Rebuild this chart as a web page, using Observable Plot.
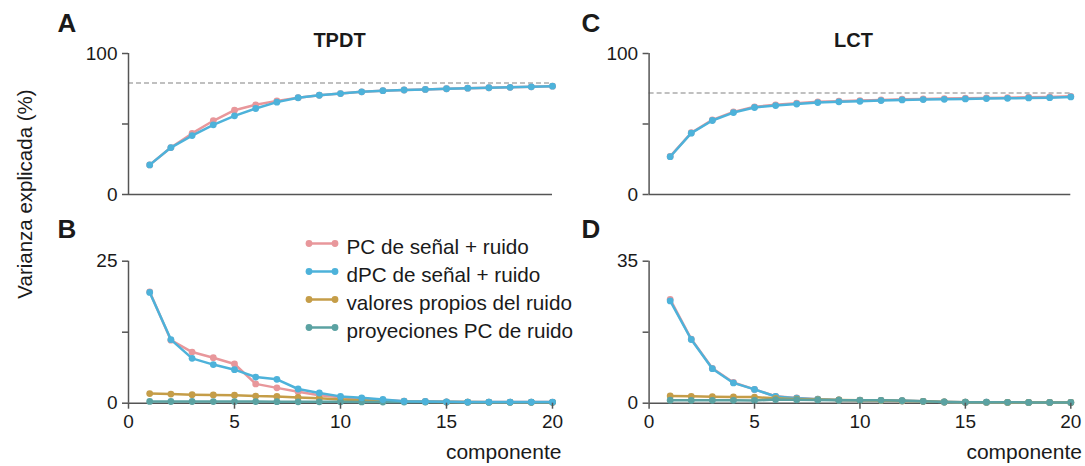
<!DOCTYPE html>
<html>
<head>
<meta charset="utf-8">
<script src="https://cdn.jsdelivr.net/npm/d3@7"></script>
<script src="https://cdn.jsdelivr.net/npm/@observablehq/plot@0.6"></script>
<style>
  html, body { margin: 0; padding: 0; background: #fff; }
  #fig { position: relative; width: 1085px; height: 466px; overflow: hidden;
         font-family: "Liberation Sans", Arial, sans-serif; color: #1a1a1a; }
  #fig > svg, #fig > div { position: absolute; }
</style>
</head>
<body>
<div id="fig"></div>
<script>
// Componentes principales 1..20
const componentes = d3.range(1, 21);

// Varianza explicada acumulada (%)
const tpdtPCacum  = [21.0, 33.3, 43.3, 52.3, 59.8, 63.6, 66.4, 68.7, 70.4, 71.6, 72.8, 73.6, 74.1, 74.5, 75.0, 75.4, 75.7, 76.0, 76.4, 76.8];
const tpdtDPCacum = [21.0, 33.3, 41.8, 49.4, 55.8, 61.0, 65.5, 68.6, 70.4, 71.6, 72.8, 73.6, 74.1, 74.5, 75.0, 75.4, 75.7, 76.0, 76.4, 76.8];
const tpdtTecho = 79;
const lctPCacum   = [27.0, 43.8, 52.9, 58.6, 62.2, 63.6, 64.7, 65.7, 66.2, 66.6, 67.1, 67.6, 67.8, 68.0, 68.3, 68.5, 68.7, 69.0, 69.2, 69.6];
const lctDPCacum  = [26.8, 43.5, 52.5, 58.1, 61.7, 63.1, 64.2, 65.2, 65.7, 66.1, 66.6, 67.1, 67.3, 67.5, 67.8, 68.0, 68.2, 68.5, 68.7, 69.2];
const lctTecho = 72;

// Varianza explicada por componente (%)
const tpdtPC    = [19.6, 11.1, 9.0, 8.0, 6.9, 3.4, 2.7, 2.0, 1.4, 1.05, 0.8, 0.55, 0.35, 0.3, 0.25, 0.2, 0.2, 0.2, 0.2, 0.2];
const tpdtDPC   = [19.5, 11.2, 7.9, 6.8, 5.9, 4.6, 4.2, 2.5, 1.8, 1.2, 0.95, 0.65, 0.35, 0.3, 0.25, 0.2, 0.2, 0.2, 0.2, 0.2];
const tpdtRuido = [1.7, 1.6, 1.5, 1.45, 1.4, 1.25, 1.2, 1.0, 0.85, 0.65, 0.5, 0.4, 0.3, 0.25, 0.2, 0.2, 0.15, 0.15, 0.15, 0.15];
const tpdtProy  = [0.32, 0.3, 0.3, 0.29, 0.28, 0.28, 0.27, 0.25, 0.25, 0.24, 0.22, 0.21, 0.2, 0.2, 0.19, 0.18, 0.18, 0.17, 0.17, 0.16];
const lctPC     = [25.6, 15.8, 8.6, 5.1, 3.4, 1.7, 1.3, 1.0, 0.8, 0.75, 0.7, 0.6, 0.45, 0.3, 0.25, 0.25, 0.22, 0.2, 0.2, 0.2];
const lctDPC    = [25.2, 15.7, 8.5, 5.0, 3.4, 1.65, 1.25, 1.0, 0.8, 0.75, 0.7, 0.6, 0.45, 0.3, 0.25, 0.25, 0.22, 0.2, 0.2, 0.2];
const lctRuido  = [1.8, 1.7, 1.6, 1.55, 1.5, 1.2, 1.0, 0.9, 0.8, 0.7, 0.65, 0.55, 0.45, 0.3, 0.25, 0.22, 0.2, 0.2, 0.18, 0.18];
const lctProy   = [0.75, 0.72, 0.7, 0.7, 0.68, 0.9, 0.85, 0.8, 0.75, 0.7, 0.7, 0.6, 0.45, 0.3, 0.25, 0.25, 0.22, 0.2, 0.2, 0.2];

// Series y etiquetas de la leyenda
const series = ["pc", "dpc", "ruido", "proy"];
const etiquetas = ["PC de señal + ruido", "dPC de señal + ruido", "valores propios del ruido", "proyeciones PC de ruido"];
const colores = ["#e8979b", "#4db2da", "#c59d48", "#5ba2a2"];

const xTicks = [0, 5, 10, 15, 20];
const FONT = '"Liberation Sans", Arial, sans-serif';
const AXIS = "#555";

const fig = document.getElementById("fig");

function place(node, left, top) {
  node.style.left = left + "px";
  node.style.top = top + "px";
  fig.appendChild(node);
}

function panel({valores, orden, yMax, techo, conX, width, height, margin}) {
  const marks = [];
  if (techo != null) {
    marks.push(Plot.ruleY([techo], {x1: 0, x2: 20, stroke: "#c0c0c0", strokeWidth: 2, strokeDasharray: "5,3"}));
  }
  marks.push(Plot.ruleX([0], {y1: 0, y2: yMax, stroke: AXIS, strokeWidth: 1.5}));
  marks.push(Plot.ruleY([0], {x1: 0, x2: 20, stroke: AXIS, strokeWidth: 1.5}));
  for (const s of orden) {
    const i = series.indexOf(s);
    const rows = componentes.map((k, j) => ({k, v: valores[s][j]}));
    marks.push(Plot.line(rows, {x: "k", y: "v", stroke: colores[i], strokeWidth: 2.5}));
    marks.push(Plot.dot(rows, {x: "k", y: "v", fill: colores[i], r: 3.4}));
  }
  marks.push(Plot.axisY({ticks: [0, yMax / 2, yMax], tickFormat: d => (d === yMax / 2 ? "" : d),
    tickSize: 6, tickPadding: 5, stroke: AXIS, strokeWidth: 1.5, label: null}));
  if (conX) {
    marks.push(Plot.axisX({ticks: xTicks, tickSize: 6, tickPadding: 5, stroke: AXIS, strokeWidth: 1.5, label: null}));
  }
  return Plot.plot({
    width, height,
    marginLeft: margin[0], marginRight: margin[1], marginTop: margin[2], marginBottom: margin[3],
    x: {domain: [0, 20], axis: null},
    y: {domain: [0, yMax], axis: null},
    style: {fontFamily: FONT, fontSize: "19px", color: "#1a1a1a", background: "transparent", overflow: "visible"},
    marks
  });
}

// A: TPDT acumulada
place(panel({
  valores: {pc: tpdtPCacum, dpc: tpdtDPCacum},
  orden: ["pc", "dpc"], yMax: 100, techo: tpdtTecho, conX: false,
  width: 580, height: 212, margin: [128, 28, 53, 18]
}), 0, 0);

// C: LCT acumulada
place(panel({
  valores: {pc: lctPCacum, dpc: lctDPCacum},
  orden: ["pc", "dpc"], yMax: 100, techo: lctTecho, conX: false,
  width: 565, height: 212, margin: [128.6, 14.7, 53, 18]
}), 520, 0);

// B: TPDT por componente
place(panel({
  valores: {pc: tpdtPC, dpc: tpdtDPC, ruido: tpdtRuido, proy: tpdtProy},
  orden: ["pc", "ruido", "proy", "dpc"], yMax: 25, conX: true,
  width: 580, height: 254, margin: [128, 28, 48.7, 63.3]
}), 0, 212);

// D: LCT por componente
place(panel({
  valores: {pc: lctPC, dpc: lctDPC, ruido: lctRuido, proy: lctProy},
  orden: ["pc", "dpc", "ruido", "proy"], yMax: 35, conX: true,
  width: 565, height: 254, margin: [128.6, 14.7, 48.7, 63.3]
}), 520, 212);

// Textos: letras de panel, títulos, ejes y leyenda
const over = d3.create("svg")
  .attr("width", 1085).attr("height", 466)
  .style("font-family", FONT).style("pointer-events", "none");

const letras = [["A", 57.5, 31.5], ["B", 57.5, 238], ["C", 581.5, 31.5], ["D", 581.5, 238]];
over.selectAll("text.letra").data(letras).join("text")
  .attr("class", "letra")
  .attr("x", d => d[1]).attr("y", d => d[2])
  .attr("font-size", 26).attr("font-weight", "bold").attr("fill", "#1a1a1a")
  .text(d => d[0]);

const titulos = [["TPDT", 339.5], ["LCT", 853.5]];
over.selectAll("text.titulo").data(titulos).join("text")
  .attr("class", "titulo")
  .attr("x", d => d[1]).attr("y", 46.5)
  .attr("text-anchor", "middle")
  .attr("font-size", 20).attr("font-weight", "bold").attr("fill", "#1a1a1a")
  .text(d => d[0]);

over.append("text")
  .attr("transform", "translate(31.5,194) rotate(-90)")
  .attr("text-anchor", "middle")
  .attr("font-size", 20.5).attr("fill", "#1a1a1a")
  .text("Varianza explicada (%)");

over.selectAll("text.xlab").data([561.5, 1082]).join("text")
  .attr("class", "xlab")
  .attr("x", d => d).attr("y", 459)
  .attr("text-anchor", "end")
  .attr("font-size", 21).attr("fill", "#1a1a1a")
  .text("componente");

const ley = over.append("g").selectAll("g").data(series).join("g")
  .attr("transform", (d, i) => `translate(0,${243.5 + i * 28})`);
ley.append("line")
  .attr("x1", 309).attr("x2", 335).attr("y1", 0).attr("y2", 0)
  .attr("stroke", (d, i) => colores[i]).attr("stroke-width", 2.5);
ley.selectAll("circle").data((d, i) => [[309, colores[i]], [335, colores[i]]]).join("circle")
  .attr("cx", d => d[0]).attr("cy", 0).attr("r", 3.4).attr("fill", d => d[1]);
ley.append("text")
  .attr("x", 346.5).attr("y", 10)
  .attr("font-size", 20.7).attr("fill", "#1a1a1a")
  .text((d, i) => etiquetas[i]);

place(over.node(), 0, 0);
</script>
</body>
</html>
